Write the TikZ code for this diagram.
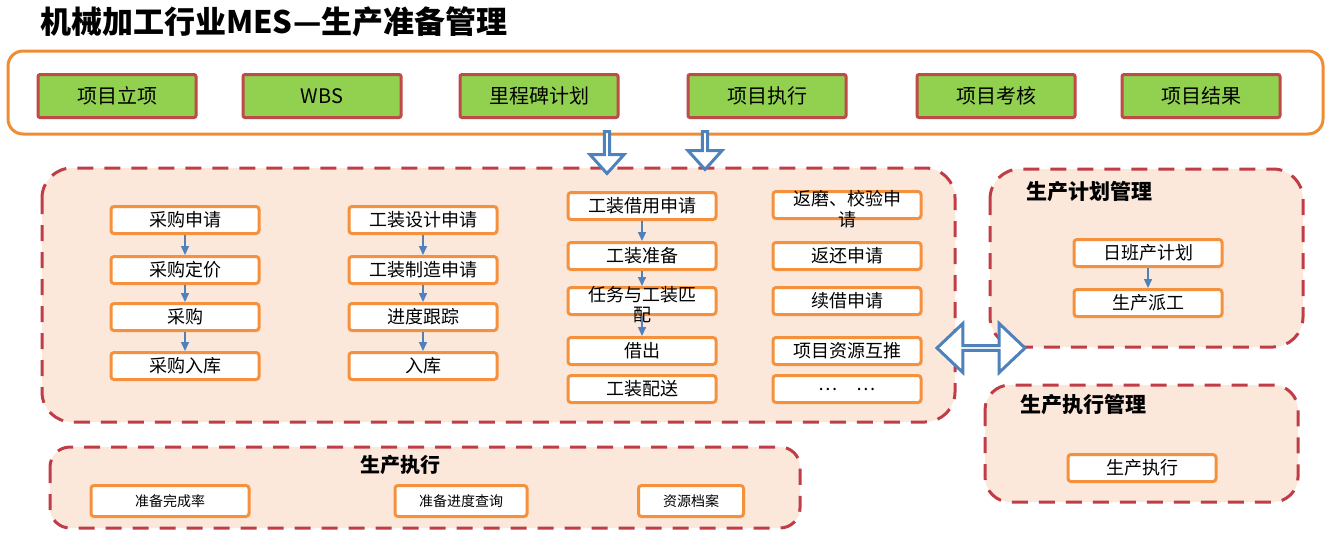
\documentclass[tikz,border=0pt]{standalone}
\usepackage{fontspec}
\setmainfont{Noto Sans CJK SC}
\usetikzlibrary{arrows.meta, shapes.arrows, positioning}

\definecolor{frameorange}{RGB}{240,140,50}
\definecolor{boxorange}{RGB}{245,145,60}
\definecolor{leafgreen}{RGB}{146,208,80}
\definecolor{brickred}{RGB}{190,75,72}
\definecolor{dashred}{RGB}{192,60,70}
\definecolor{peach}{RGB}{251,232,219}
\definecolor{flowblue}{RGB}{79,129,189}

\tikzset{
  stagebox/.style={draw=brickred, fill=leafgreen, line width=3pt, rounded corners=2pt,
    minimum width=158pt, minimum height=43pt, inner sep=0pt, font=\fontsize{20}{24}\selectfont},
  taskbox/.style={draw=boxorange, fill=white, line width=3pt, rounded corners=3pt,
    minimum width=148pt, minimum height=27pt, inner sep=0pt, font=\fontsize{18}{20}\selectfont},
  reportbox/.style={taskbox, minimum height=31pt, font=\fontsize{14}{16}\selectfont},
  zone/.style={draw=dashred, fill=peach, line width=3pt, dash pattern=on 16pt off 11pt},
  zonetitle/.style={anchor=west, font=\bfseries\fontsize{21}{24}\selectfont},
  flow/.style={-{Triangle[length=9pt,width=8pt]}, flowblue, line width=1.5pt},
  hollow/.style={draw=flowblue, fill=white, line width=3pt, inner sep=0pt},
}

\begin{document}
\begin{tikzpicture}[x=1pt, y=-1pt]
      \useasboundingbox (0,0) rectangle (1340,555);

      \node[anchor=west, inner sep=0pt, font=\bfseries\fontsize{31}{36}\selectfont] (title) at (40,22) {机械加工行业MES—生产准备管理};

      % project stages
      \draw[frameorange, line width=3pt, rounded corners=15pt, fill=white] (8,51) rectangle (1323,134);
      \node[stagebox] (lixiang) at (117,96) {项目立项};
      \node[stagebox] (wbs) at (322,96) {WBS};
      \node[stagebox] (licheng) at (539,96) {里程碑计划};
      \node[stagebox] (zhixing) at (767,96) {项目执行};
      \node[stagebox] (kaohe) at (996,96) {项目考核};
      \node[stagebox] (jieguo) at (1201,96) {项目结果};

      % preparation zone
      \draw[zone, rounded corners=30pt] (42,168) rectangle (955,422);

      \node[taskbox] (cg1) at (185,220) {采购申请};
      \node[taskbox] (cg2) at (185,270) {采购定价};
      \node[taskbox] (cg3) at (185,317) {采购};
      \node[taskbox] (cg4) at (185,366) {采购入库};
      \draw[flow] (cg1) -- (cg2);
      \draw[flow] (cg2) -- (cg3);
      \draw[flow] (cg3) -- (cg4);

      \node[taskbox] (sj1) at (423,220) {工装设计申请};
      \node[taskbox] (sj2) at (423,270) {工装制造申请};
      \node[taskbox] (sj3) at (423,317) {进度跟踪};
      \node[taskbox] (sj4) at (423,366) {入库};
      \draw[flow] (sj1) -- (sj2);
      \draw[flow] (sj2) -- (sj3);
      \draw[flow] (sj3) -- (sj4);

      \node[taskbox] (jy1) at (642,206) {工装借用申请};
      \node[taskbox] (jy2) at (642,256) {工装准备};
      \node[taskbox] (jy3) at (642,301) {\smash{\begin{tabular}[t]{@{}c@{}}任务与工装匹\\配\end{tabular}}};
      \node[taskbox] (jy4) at (642,351) {借出};
      \node[taskbox] (jy5) at (642,389) {工装配送};
      \draw[flow] (jy1) -- (jy2);
      \draw[flow] (jy2) -- (jy3);
      \draw[flow] (jy3) -- (jy4);

      \node[taskbox] (gh1) at (847,205) {\smash{\begin{tabular}[t]{@{}c@{}}返磨、校验申\\请\end{tabular}}};
      \node[taskbox] (gh2) at (847,256) {返还申请};
      \node[taskbox] (gh3) at (847,301) {续借申请};
      \node[taskbox] (gh4) at (847,351) {项目资源互推};
      \node[taskbox] (gh5) at (847,389) {…\quad…};

      % production planning
      \draw[zone, rounded corners=30pt] (990,169) rectangle (1303,347);
      \node[zonetitle] (plantitle) at (1023,192) {生产计划管理};
      \node[taskbox] (jh1) at (1148,253) {日班产计划};
      \node[taskbox] (jh2) at (1148,303) {生产派工};
      \draw[flow] (jh1) -- (jh2);

      % production execution
      \draw[zone, rounded corners=25pt] (985,385) rectangle (1298,502);
      \node[zonetitle] (exectitle) at (1017,405) {生产执行管理};
      \node[taskbox] (zx1) at (1142,468) {生产执行};

      % reports
      \draw[zone, rounded corners=20pt] (50,447) rectangle (800,528);
      \node[font=\bfseries\fontsize{20}{24}\selectfont] (reporttitle) at (400,465) {生产执行};
      \node[reportbox, minimum width=158pt] (bb1) at (170,501) {准备完成率};
      \node[reportbox, minimum width=132pt] (bb2) at (461,501) {准备进度查询};
      \node[reportbox, minimum width=105pt] (bb3) at (691,501) {资源档案};

      % block arrows
      \node[hollow, single arrow, shape border rotate=270, single arrow head extend=8pt,
        single arrow tip angle=84, minimum height=42pt, minimum width=34pt, anchor=tail] (down1) at (607,130) {};
      \node[hollow, single arrow, shape border rotate=270, single arrow head extend=8pt,
        single arrow tip angle=84, minimum height=38pt, minimum width=34pt, anchor=tail] (down2) at (705,130) {};
      \node[hollow, double arrow, double arrow head extend=14.5pt, double arrow tip angle=87,
        minimum height=88pt, minimum width=49pt] (swap) at (981,348) {};
\end{tikzpicture}
\end{document}
